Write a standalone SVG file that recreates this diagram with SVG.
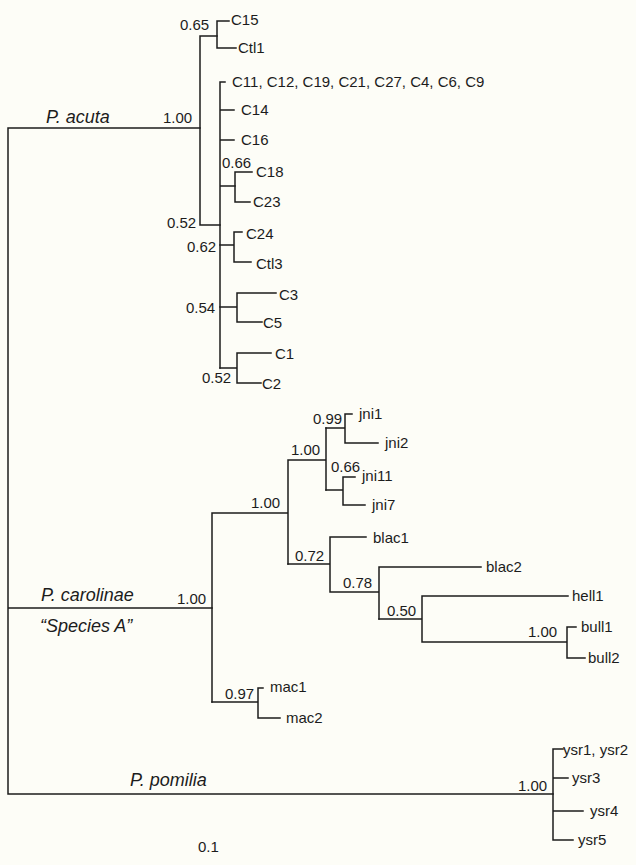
<svg xmlns="http://www.w3.org/2000/svg" width="636" height="865" viewBox="0 0 636 865">
<style>
.e{fill:none;stroke:#1c1c1c;stroke-width:1.5;stroke-linecap:square}
text{font-family:"Liberation Sans",Arial,sans-serif;font-size:15px;fill:#1c1c1c}
.s{font-size:15px}
.c{font-size:18px;font-style:italic}
</style>
<rect width="636" height="865" fill="#fdfdf7"/>
<g id="connectors" class="e">
<path d="M8,128V794M8,128H200M8,608H212M8,794H553"/>
<path d="M200,36V225M200,36H217M200,225H220"/>
<path d="M217,21V48M217,21H229M217,48H236"/>
<path d="M220,82V368M220,82H225M220,110H234M220,140H234M220,186H235"/>
<path d="M235,172V202M235,172H252M235,202H250"/>
<path d="M220,245H234M234,232V262M234,232H242M234,262H251"/>
<path d="M220,307H237M237,293V322M237,293H276M237,322H262"/>
<path d="M220,368H237M237,353V383M237,353H271M237,383H261"/>
<path d="M212,513V702M212,513H288M288,460V564M288,460H326M326,428V490"/>
<path d="M326,428H345M345,414V443M345,414H352M345,443H378"/>
<path d="M326,490H343M343,477V505M343,477H355M343,505H365"/>
<path d="M288,564H330M330,537V592M330,537H366M330,592H379M379,567V619M379,567H481"/>
<path d="M379,619H422M422,596V642M422,596H568M422,642H567M567,627V658M567,627H576M567,658H585"/>
<path d="M212,702H258M258,688V718M258,688H263M258,718H280"/>
<path d="M553,749V840M553,749H563M553,778H568M553,811H583M553,840H573"/>
</g>
<g id="clades">
<text class="c" x="46" y="123">P. acuta</text>
<text class="c" x="41" y="601">P. carolinae</text>
<text class="c" x="40" y="632">“Species A”</text>
<text class="c" x="130" y="786">P. pomilia</text>
</g>
<g id="support" class="s">
<text x="180" y="30">0.65</text>
<text x="163" y="123">1.00</text>
<text x="222" y="168">0.66</text>
<text x="167" y="228">0.52</text>
<text x="187" y="252">0.62</text>
<text x="186" y="313">0.54</text>
<text x="202" y="383">0.52</text>
<text x="177" y="604">1.00</text>
<text x="251" y="508">1.00</text>
<text x="291" y="455">1.00</text>
<text x="313" y="424">0.99</text>
<text x="331" y="472">0.66</text>
<text x="295" y="561">0.72</text>
<text x="343" y="588">0.78</text>
<text x="387" y="616">0.50</text>
<text x="528" y="637">1.00</text>
<text x="225" y="699">0.97</text>
<text x="518" y="791">1.00</text>
</g>
<g id="leaf-C15"><text x="231" y="25">C15</text></g>
<g id="leaf-Ctl1"><text x="238" y="53">Ctl1</text></g>
<g id="leaf-C11"><text x="232" y="87">C11, C12, C19, C21, C27, C4, C6, C9</text></g>
<g id="leaf-C14"><text x="241" y="115">C14</text></g>
<g id="leaf-C16"><text x="241" y="145">C16</text></g>
<g id="leaf-C18"><text x="256" y="177">C18</text></g>
<g id="leaf-C23"><text x="253" y="207">C23</text></g>
<g id="leaf-C24"><text x="246" y="239">C24</text></g>
<g id="leaf-Ctl3"><text x="256" y="269">Ctl3</text></g>
<g id="leaf-C3"><text x="279" y="300">C3</text></g>
<g id="leaf-C5"><text x="263" y="328">C5</text></g>
<g id="leaf-C1"><text x="275" y="359">C1</text></g>
<g id="leaf-C2"><text x="262" y="389">C2</text></g>
<g id="leaf-jni1"><text x="359" y="419">jni1</text></g>
<g id="leaf-jni2"><text x="385" y="448">jni2</text></g>
<g id="leaf-jni11"><text x="362" y="481">jni11</text></g>
<g id="leaf-jni7"><text x="372" y="510">jni7</text></g>
<g id="leaf-blac1"><text x="373" y="543">blac1</text></g>
<g id="leaf-blac2"><text x="486" y="572">blac2</text></g>
<g id="leaf-hell1"><text x="572" y="601">hell1</text></g>
<g id="leaf-bull1"><text x="581" y="632">bull1</text></g>
<g id="leaf-bull2"><text x="588" y="663">bull2</text></g>
<g id="leaf-mac1"><text x="270" y="692">mac1</text></g>
<g id="leaf-mac2"><text x="286" y="723">mac2</text></g>
<g id="leaf-ysr1"><text x="563" y="755">ysr1, ysr2</text></g>
<g id="leaf-ysr3"><text x="572" y="783">ysr3</text></g>
<g id="leaf-ysr4"><text x="590" y="816">ysr4</text></g>
<g id="leaf-ysr5"><text x="578" y="845">ysr5</text></g>
<g id="scale"><text x="198" y="852">0.1</text></g>
</svg>
